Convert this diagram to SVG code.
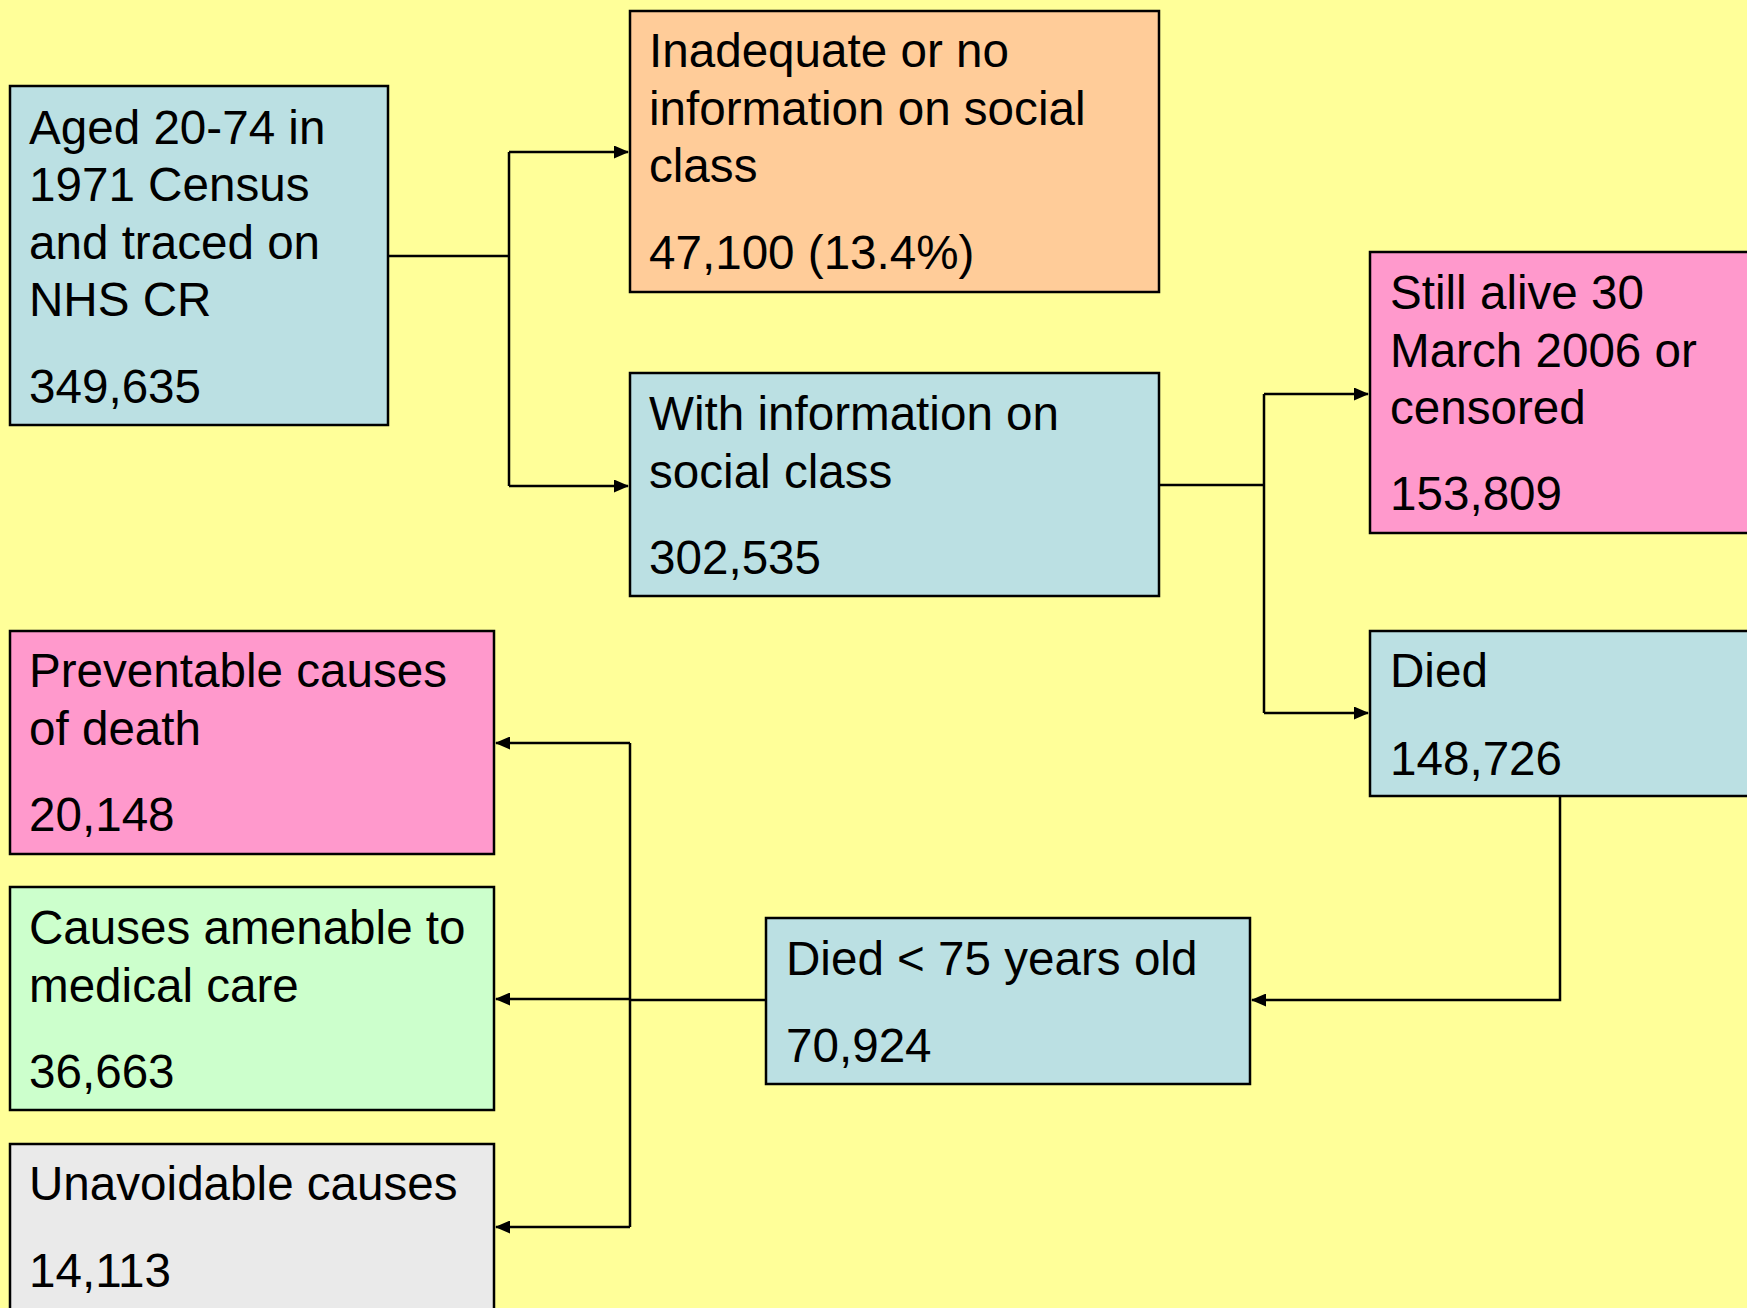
<svg xmlns="http://www.w3.org/2000/svg" width="1747" height="1308" viewBox="0 0 1747 1308">
<style>
.box{stroke:#000;stroke-width:2.5}
.t{font-family:"Liberation Sans",Arial,sans-serif;font-size:47.6px;fill:#000}
.c{fill:none;stroke:#000;stroke-width:2.5}
</style>
<defs>
<marker id="ah" markerUnits="userSpaceOnUse" markerWidth="15" markerHeight="13" refX="14" refY="6.5" orient="auto">
<path d="M0,0 L15,6.5 L0,13 Z" fill="#000"/>
</marker>
</defs>
<rect width="1747" height="1308" fill="#FFFF99"/>
<g id="connectors">
<path class="c" d="M388,256 H509"/>
<path class="c" d="M509,152 V486"/>
<path class="c" d="M509,152 H628" marker-end="url(#ah)"/>
<path class="c" d="M509,486 H628" marker-end="url(#ah)"/>
<path class="c" d="M1159,485 H1264"/>
<path class="c" d="M1264,394 V713"/>
<path class="c" d="M1264,394 H1368" marker-end="url(#ah)"/>
<path class="c" d="M1264,713 H1368" marker-end="url(#ah)"/>
<path class="c" d="M1560,797 V1000 H1252" marker-end="url(#ah)"/>
<path class="c" d="M766,1000 H630"/>
<path class="c" d="M630,743 V1227"/>
<path class="c" d="M630,743 H496" marker-end="url(#ah)"/>
<path class="c" d="M630,999 H496" marker-end="url(#ah)"/>
<path class="c" d="M630,1227 H496" marker-end="url(#ah)"/>
</g>
<g id="node-aged">
<rect class="box" x="10" y="86" width="378" height="339" fill="#BBE0E3"/>
<text class="t" x="29" y="144">Aged 20-74 in</text>
<text class="t" x="29" y="201">1971 Census</text>
<text class="t" x="29" y="259">and traced on</text>
<text class="t" x="29" y="316">NHS CR</text>
<text class="t" x="29" y="403">349,635</text>
</g>
<g id="node-inadequate">
<rect class="box" x="630" y="11" width="529" height="281" fill="#FFCC99"/>
<text class="t" x="649" y="67">Inadequate or no</text>
<text class="t" x="649" y="125">information on social</text>
<text class="t" x="649" y="182">class</text>
<text class="t" x="649" y="269">47,100 (13.4%)</text>
</g>
<g id="node-withinfo">
<rect class="box" x="630" y="373" width="529" height="223" fill="#BBE0E3"/>
<text class="t" x="649" y="430">With information on</text>
<text class="t" x="649" y="488">social class</text>
<text class="t" x="649" y="574">302,535</text>
</g>
<g id="node-alive">
<rect class="box" x="1370" y="252" width="390" height="281" fill="#FF99CC"/>
<text class="t" x="1390" y="309">Still alive 30</text>
<text class="t" x="1390" y="367">March 2006 or</text>
<text class="t" x="1390" y="424">censored</text>
<text class="t" x="1390" y="510">153,809</text>
</g>
<g id="node-died">
<rect class="box" x="1370" y="631" width="390" height="165" fill="#BBE0E3"/>
<text class="t" x="1390" y="687">Died</text>
<text class="t" x="1390" y="775">148,726</text>
</g>
<g id="node-died75">
<rect class="box" x="766" y="918" width="484" height="166" fill="#BBE0E3"/>
<text class="t" x="786" y="975">Died &lt; 75 years old</text>
<text class="t" x="786" y="1062">70,924</text>
</g>
<g id="node-preventable">
<rect class="box" x="10" y="631" width="484" height="223" fill="#FF99CC"/>
<text class="t" x="29" y="687">Preventable causes</text>
<text class="t" x="29" y="745">of death</text>
<text class="t" x="29" y="831">20,148</text>
</g>
<g id="node-amenable">
<rect class="box" x="10" y="887" width="484" height="223" fill="#CCFFCC"/>
<text class="t" x="29" y="944">Causes amenable to</text>
<text class="t" x="29" y="1002">medical care</text>
<text class="t" x="29" y="1088">36,663</text>
</g>
<g id="node-unavoidable">
<rect class="box" x="10" y="1144" width="484" height="200" fill="#EAEAEA"/>
<text class="t" x="29" y="1200">Unavoidable causes</text>
<text class="t" x="29" y="1287">14,113</text>
</g>
</svg>
